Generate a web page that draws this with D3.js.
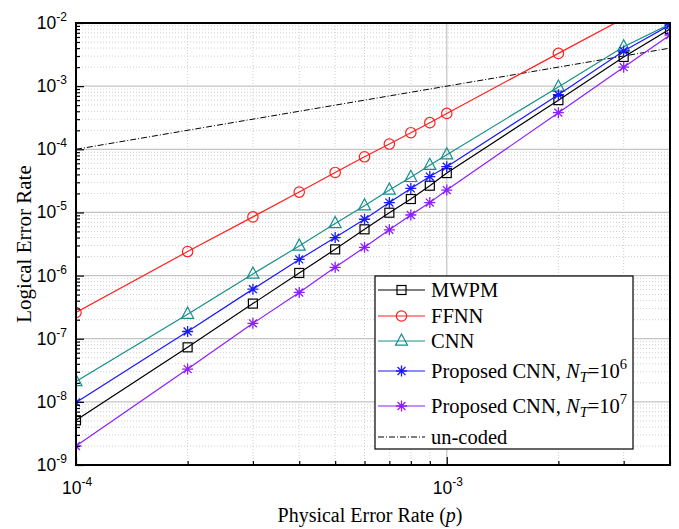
<!DOCTYPE html>
<html>
<head>
<meta charset="utf-8">
<script src="https://cdn.jsdelivr.net/npm/d3@7"></script>
<style>
body { margin: 0; background: #fff; }
svg { display: block; }
</style>
</head>
<body>
<div id="chart"></div>
<script>
// physical error rate p, one value per data column
var p_values = [1e-4, 2e-4, 3e-4, 4e-4, 5e-4, 6e-4, 7e-4, 8e-4, 9e-4, 1e-3, 2e-3, 3e-3, 4e-3];

var mwpm   = [5.1e-9, 7.3e-8, 3.6e-7, 1.1e-6, 2.6e-6, 5.4e-6, 9.9e-6, 1.63e-5, 2.65e-5, 4.2e-5, 6.0e-4, 2.9e-3, 8.0e-3];
var ffnn   = [2.6e-7, 2.4e-6, 8.5e-6, 2.1e-5, 4.3e-5, 7.6e-5, 1.21e-4, 1.83e-4, 2.64e-4, 3.7e-4, 3.3e-3, 1.18e-2, null];
var cnn    = [2.1e-8, 2.45e-7, 1.06e-6, 2.95e-6, 6.7e-6, 1.28e-5, 2.27e-5, 3.6e-5, 5.6e-5, 8.2e-5, 9.7e-4, 4.2e-3, 9.6e-3];
var prop6  = [9.8e-9, 1.3e-7, 6.1e-7, 1.8e-6, 4.0e-6, 7.8e-6, 1.43e-5, 2.4e-5, 3.7e-5, 5.3e-5, 7.3e-4, 3.6e-3, 9.3e-3];
var prop7  = [2.0e-9, 3.3e-8, 1.75e-7, 5.4e-7, 1.35e-6, 2.8e-6, 5.3e-6, 9.1e-6, 1.43e-5, 2.26e-5, 3.8e-4, 2.0e-3, 6.45e-3];

// un-coded reference: logical error = physical error
var uncoded_p = [1e-4, 4e-3];
var uncoded_y = [1e-4, 4e-3];

var x_decades = [1e-4, 1e-3];
var y_decades = [1e-9, 1e-8, 1e-7, 1e-6, 1e-5, 1e-4, 1e-3, 1e-2];
var x_tick_exp = ['-4', '-3'];
var y_tick_exp = ['-9', '-8', '-7', '-6', '-5', '-4', '-3', '-2'];

var series_names = ['MWPM', 'FFNN', 'CNN', 'Proposed CNN, N_T=10^6', 'Proposed CNN, N_T=10^7', 'un-coded'];

var svg_size = {'width': 679, 'height': 529};
var plot = {'left': 76, 'right': 670, 'top': 23, 'bottom': 465};

var svg = d3.select('#chart')
    .append('svg')
    .attr('width', svg_size.width)
    .attr('height', svg_size.height);

var x_scale = d3.scaleLog()
    .domain([1e-4, 4e-3])
    .range([plot.left, plot.right]);

var y_scale = d3.scaleLog()
    .domain([1e-9, 1e-2])
    .range([plot.bottom, plot.top]);

// minor tick values: 2..9 in every decade
var x_minor = [];
[1e-4, 1e-3].forEach(function(d){
    for (var k = 2; k <= 9; k++) {
        var v = d * k;
        if (v <= 4e-3 + 1e-12) x_minor.push(v);
    }
});
var y_minor = [];
y_decades.slice(0, -1).forEach(function(d){
    for (var k = 2; k <= 9; k++) y_minor.push(d * k);
});

// grid
var grid = svg.append('g');
grid.selectAll('.gx-minor').data(x_minor).enter().append('line')
    .attr('x1', function(d){ return x_scale(d); })
    .attr('x2', function(d){ return x_scale(d); })
    .attr('y1', plot.top).attr('y2', plot.bottom)
    .style('stroke', '#cfcfcf').style('stroke-width', 1).style('stroke-dasharray', '1,2');
grid.selectAll('.gy-minor').data(y_minor).enter().append('line')
    .attr('y1', function(d){ return y_scale(d); })
    .attr('y2', function(d){ return y_scale(d); })
    .attr('x1', plot.left).attr('x2', plot.right)
    .style('stroke', '#cfcfcf').style('stroke-width', 1).style('stroke-dasharray', '1,2');
grid.selectAll('.gx-major').data(x_decades).enter().append('line')
    .attr('x1', function(d){ return x_scale(d); })
    .attr('x2', function(d){ return x_scale(d); })
    .attr('y1', plot.top).attr('y2', plot.bottom)
    .style('stroke', '#c4c4c4').style('stroke-width', 1.2);
grid.selectAll('.gy-major').data(y_decades).enter().append('line')
    .attr('y1', function(d){ return y_scale(d); })
    .attr('y2', function(d){ return y_scale(d); })
    .attr('x1', plot.left).attr('x2', plot.right)
    .style('stroke', '#c4c4c4').style('stroke-width', 1.2);

// clip
svg.append('clipPath').attr('id', 'plot-clip')
    .append('rect')
    .attr('x', plot.left).attr('y', plot.top)
    .attr('width', plot.right - plot.left)
    .attr('height', plot.bottom - plot.top);

var series = [
    {name: series_names[0], values: mwpm,  color: '#000000', marker: 'square'},
    {name: series_names[1], values: ffnn,  color: '#ff2020', marker: 'circle'},
    {name: series_names[2], values: cnn,   color: '#15908c', marker: 'triangle'},
    {name: series_names[3], values: prop6, color: '#1a1aff', marker: 'star'},
    {name: series_names[4], values: prop7, color: '#8c1fff', marker: 'star'}
];

function draw_marker(g, type, cx, cy, color) {
    if (type === 'square') {
        g.append('rect').attr('x', cx - 4.5).attr('y', cy - 4.5)
            .attr('width', 9).attr('height', 9)
            .style('fill', 'none').style('stroke', color).style('stroke-width', 1.2);
    } else if (type === 'circle') {
        g.append('circle').attr('cx', cx).attr('cy', cy).attr('r', 5.2)
            .style('fill', 'none').style('stroke', color).style('stroke-width', 1.2);
    } else if (type === 'triangle') {
        var s = 6;
        g.append('path')
            .attr('d', 'M' + cx + ',' + (cy - s - 1) + 'L' + (cx + s) + ',' + (cy + s * 0.7) + 'L' + (cx - s) + ',' + (cy + s * 0.7) + 'Z')
            .style('fill', 'none').style('stroke', color).style('stroke-width', 1.2);
    } else if (type === 'star') {
        var r = 5.5, q = r * 0.72;
        g.append('path')
            .attr('d', 'M' + (cx - r) + ',' + cy + 'L' + (cx + r) + ',' + cy +
                       'M' + cx + ',' + (cy - r) + 'L' + cx + ',' + (cy + r) +
                       'M' + (cx - q) + ',' + (cy - q) + 'L' + (cx + q) + ',' + (cy + q) +
                       'M' + (cx - q) + ',' + (cy + q) + 'L' + (cx + q) + ',' + (cy - q))
            .style('fill', 'none').style('stroke', color).style('stroke-width', 1.3);
    }
}

var data_group = svg.append('g').attr('clip-path', 'url(#plot-clip)');

// un-coded line
var uncoded_line = d3.line()
    .x(function(d, i){ return x_scale(uncoded_p[i]); })
    .y(function(d){ return y_scale(d); });
data_group.append('path')
    .attr('d', uncoded_line(uncoded_y))
    .style('fill', 'none').style('stroke', '#000').style('stroke-width', 1)
    .style('stroke-dasharray', '6,2,1,2');

var line = d3.line()
    .defined(function(d){ return d !== null; })
    .x(function(d, i){ return x_scale(p_values[i]); })
    .y(function(d){ return y_scale(d); });

series.forEach(function(s){
    data_group.append('path')
        .attr('d', line(s.values))
        .style('fill', 'none').style('stroke', s.color).style('stroke-width', 1.2);
    var mg = data_group.append('g');
    s.values.forEach(function(v, i){
        if (v === null) return;
        draw_marker(mg, s.marker, x_scale(p_values[i]), y_scale(v), s.color);
    });
});

// ticks (inward)
var x_axis_major = d3.axisBottom(x_scale).tickValues(x_decades).tickSize(-8).tickFormat('');
var x_axis_minor = d3.axisBottom(x_scale).tickValues(x_minor).tickSize(-4).tickFormat('');
var y_axis_major = d3.axisLeft(y_scale).tickValues(y_decades).tickSize(-8).tickFormat('');
var y_axis_minor = d3.axisLeft(y_scale).tickValues(y_minor).tickSize(-4).tickFormat('');

[x_axis_major, x_axis_minor].forEach(function(ax){
    svg.append('g').attr('transform', 'translate(0,' + plot.bottom + ')').call(ax)
        .call(function(g){ g.select('.domain').remove(); })
        .selectAll('line').style('stroke', '#000').style('stroke-width', 1.2);
});
[y_axis_major, y_axis_minor].forEach(function(ax){
    svg.append('g').attr('transform', 'translate(' + plot.left + ',0)').call(ax)
        .call(function(g){ g.select('.domain').remove(); })
        .selectAll('line').style('stroke', '#000').style('stroke-width', 1.2);
});

// frame
svg.append('rect')
    .attr('x', plot.left).attr('y', plot.top)
    .attr('width', plot.right - plot.left).attr('height', plot.bottom - plot.top)
    .style('fill', 'none').style('stroke', '#000').style('stroke-width', 2);

// tick labels 10^n
var tick_font = 'Liberation Sans, Arial, sans-serif';
y_decades.forEach(function(d, i){
    var t = svg.append('text')
        .attr('x', 67).attr('y', y_scale(d) + 6)
        .attr('text-anchor', 'end')
        .style('font-family', tick_font).style('font-size', '17.5px');
    t.append('tspan').text('10');
    t.append('tspan').attr('dy', -8).style('font-size', '12px').text(y_tick_exp[i]);
});
x_decades.forEach(function(d, i){
    var t = svg.append('text')
        .attr('x', x_scale(d) - 14).attr('y', 494)
        .style('font-family', tick_font).style('font-size', '17.5px');
    t.append('tspan').text('10');
    t.append('tspan').attr('dy', -8).style('font-size', '12px').text(x_tick_exp[i]);
});

// axis titles
var serif = 'Liberation Serif, Times New Roman, serif';
var x_title = svg.append('text')
    .attr('x', 370).attr('y', 522)
    .attr('text-anchor', 'middle')
    .style('font-family', serif).style('font-size', '20px');
x_title.append('tspan').text('Physical Error Rate (');
x_title.append('tspan').style('font-style', 'italic').text('p');
x_title.append('tspan').text(')');

svg.append('text')
    .attr('transform', 'translate(31,' + ((plot.top + plot.bottom) / 2) + ') rotate(-90)')
    .attr('text-anchor', 'middle')
    .style('font-family', serif).style('font-size', '21px')
    .text('Logical Error Rate');

// legend
var legend = {'x': 375, 'y': 276, 'width': 258, 'height': 173};
var lg = svg.append('g');
lg.append('rect')
    .attr('x', legend.x).attr('y', legend.y)
    .attr('width', legend.width).attr('height', legend.height)
    .style('fill', '#fff').style('stroke', '#000').style('stroke-width', 1.2);

var legend_rows = [290, 316, 341, 371, 406, 437];
var legend_entries = series.concat([{name: series_names[5], color: '#000', marker: null, dash: '6,2,1,2'}]);

legend_entries.forEach(function(s, i){
    var ly = legend_rows[i];
    lg.append('line')
        .attr('x1', 378).attr('x2', 425).attr('y1', ly).attr('y2', ly)
        .style('stroke', s.color).style('stroke-width', s.marker ? 1.2 : 1)
        .style('stroke-dasharray', s.dash || null);
    if (s.marker) draw_marker(lg, s.marker, 401.5, ly, s.color);

    var t = lg.append('text')
        .attr('x', 431).attr('y', ly + 7)
        .style('font-family', serif).style('font-size', '20.5px');
    var m = s.name.match(/^(.*)N_T=10\^(\d)$/);
    if (m) {
        t.append('tspan').text(m[1]);
        t.append('tspan').style('font-style', 'italic').text('N');
        t.append('tspan').attr('dy', 4).style('font-style', 'italic').style('font-size', '14.5px').text('T');
        t.append('tspan').attr('dy', -4).text('=10');
        t.append('tspan').attr('dy', -9).style('font-size', '14.5px').text(m[2]);
    } else {
        t.text(s.name);
    }
});
</script>
</body>
</html>
